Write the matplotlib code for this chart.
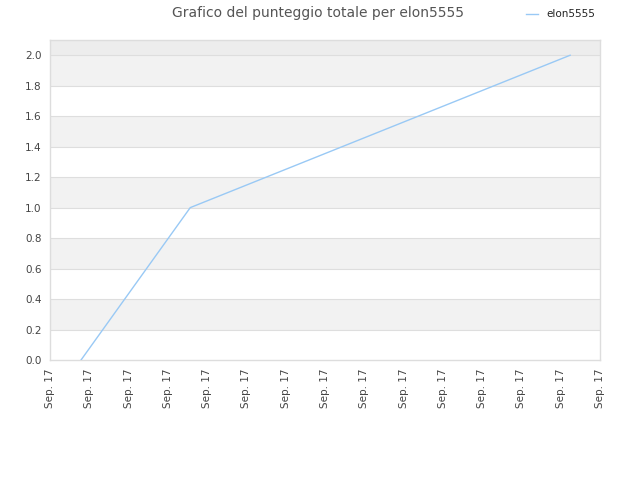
import matplotlib
matplotlib.use("Agg")
import matplotlib.pyplot as plt

# data
tick_pos = list(range(15))
tick_labels = ["Sep. 17"] * 15
x_vals = [0.79, 3.57, 13.24]
y_vals = [0.0, 1.0, 2.0]
player = "elon5555"

fig = plt.figure(figsize=(6.4, 4.8), dpi=100)
ax = fig.add_axes([50/640, 120/480, 550/640, 320/480])

# alternating bands
for lo in [0.2, 0.6, 1.0, 1.4, 1.8]:
    ax.axhspan(lo, lo + 0.2, color="#f2f2f2", zorder=0, lw=0)
ax.axhspan(2.0, 2.1, color="#ededed", zorder=0, lw=0)
for yy in [0.2, 0.4, 0.6, 0.8, 1.0, 1.2, 1.4, 1.6, 1.8, 2.0]:
    ax.axhline(yy, color="#dedede", lw=0.8, zorder=1)

ax.plot(x_vals, y_vals, color="#99c9f5", lw=1, label=player, zorder=3)

ax.set_xlim(0, 14)
ax.set_ylim(0, 2.1)
ax.set_yticks([0.0, 0.2, 0.4, 0.6, 0.8, 1.0, 1.2, 1.4, 1.6, 1.8, 2.0])
ax.set_yticklabels(["0.0", "0.2", "0.4", "0.6", "0.8", "1.0", "1.2", "1.4", "1.6", "1.8", "2.0"])
ax.set_xticks(tick_pos)
ax.set_xticklabels(tick_labels, rotation=90)
ax.tick_params(length=0, labelsize=7.5, colors="#444444", pad=6)
for s in ax.spines.values():
    s.set_color("#dddddd")
    s.set_linewidth(1)

fig.text(0.497, 0.988, "Grafico del punteggio totale per " + player,
         ha="center", va="top", fontsize=10, color="#555555")
fig.legend(loc="upper right", bbox_to_anchor=(0.945, 1.0), frameon=False,
           fontsize=7.5, handlelength=1.2, labelcolor="#222222")

fig.savefig("out.png", dpi=100)
